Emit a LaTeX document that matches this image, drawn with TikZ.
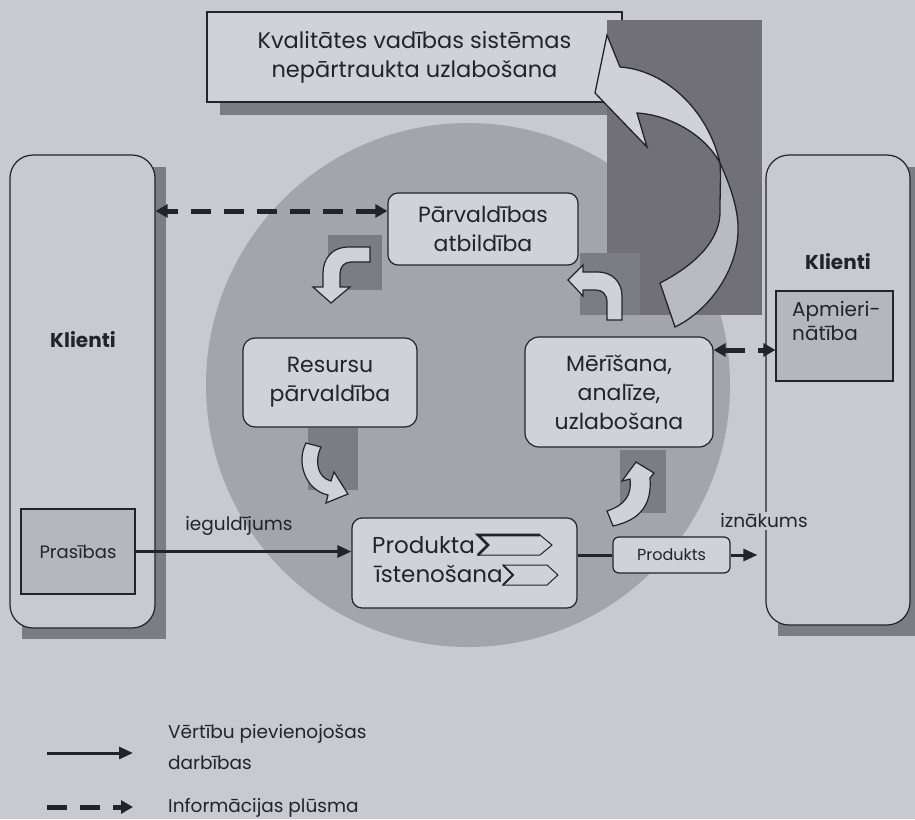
\documentclass[tikz,border=0pt]{standalone}
\usepackage{fontspec}
\setmainfont{Poppins}
\usetikzlibrary{arrows.meta}

\definecolor{paper}{RGB}{201,201,210}
\definecolor{disc}{RGB}{164,164,172}
\definecolor{shadowgray}{RGB}{124,124,131}
\definecolor{panelgray}{RGB}{112,112,118}
\definecolor{boxfill}{RGB}{209,209,217}
\definecolor{ribbon}{RGB}{186,186,194}
\definecolor{speckle}{RGB}{182,182,190}
\definecolor{ink}{RGB}{35,35,40}

\newcommand\bxfont{\fontsize{22}{29}\selectfont}
\newcommand\lgfont{\fontsize{18.5}{31}\selectfont}
\newcommand\smfont{\fontsize{16}{20}\selectfont}

\tikzset{
  roundbox/.style={draw=ink, line width=1.2pt, fill=boxfill, rounded corners=11pt,
    align=center, inner sep=0pt, font=\bxfont, text=ink},
  clientbox/.style={draw=ink, line width=1.2pt, fill=paper, rounded corners=23pt, inner sep=0pt},
  squarebox/.style={draw=ink, line width=1.2pt, fill=speckle, inner sep=0pt},
  bentarrow/.style={draw=ink, line width=1.2pt, fill=boxfill, line join=miter},
  flow/.style={draw=ink, line width=3pt, -{Triangle[length=14pt,width=12pt]}},
  flowline/.style={draw=ink, line width=3pt},
  info/.style={draw=ink, line width=5pt, dash pattern=on 20pt off 13pt,
    {Triangle[length=12pt,width=13pt]}-{Triangle[length=12pt,width=13pt]}},
  infolegend/.style={draw=ink, line width=5pt, dash pattern=on 20pt off 13pt,
    -{Triangle[length=12pt,width=13pt]}},
  caption/.style={font=\lgfont, text=ink, inner sep=0pt},
}

\begin{document}
\begin{tikzpicture}[x=1pt,y=-1pt]
  \fill[paper] (0,0) rectangle (915,819);
  \useasboundingbox (0,0) rectangle (915,819);

  % central disc
  \fill[disc] (468,385) circle[radius=262];

  % goal box with its shadow
  \fill[shadowgray] (220,25) rectangle (615,115);
  \node[roundbox, rounded corners=0pt, minimum width=415, minimum height=90,
        font=\fontsize{22.5}{29}\selectfont] (goal) at (414.5,57)
        {Kvalitātes vadības sistēmas\\nepārtraukta uzlabošana};

  % dark panel behind the improvement loop
  \fill[panelgray] (607,20) rectangle (762,315);

  % shadow squares behind the small bent arrows
  \fill[shadowgray] (328,235) rectangle (382,290);
  \fill[shadowgray] (308,428) rectangle (358,490);
  \fill[shadowgray] (620,450) rectangle (666,513);
  \fill[shadowgray] (580,253) rectangle (640,315);

  % small bent arrows
  \path[bentarrow] (370,247) -- (348,247) .. controls (333,247) and (323,258) .. (323,273)
    -- (323,287) -- (313,287) -- (331,303) -- (350,287) -- (340,287) -- (340,274)
    .. controls (340,267) and (344,262) .. (351,262) -- (370,262) -- cycle;
  \path[bentarrow] (306,443) -- (321,447) .. controls (314,462) and (318,478) .. (331,481)
    -- (334,472) -- (348,494) -- (326,503) -- (328,495)
    .. controls (305,490) and (296,462) .. (306,443) -- cycle;
  \path[bentarrow] (607,511) -- (613,526) .. controls (640,520) and (652,505) .. (650,478)
    -- (654,473) -- (636,462) -- (622,481) -- (630,479)
    .. controls (632,495) and (625,505) .. (607,511) -- cycle;
  \path[bentarrow] (607,320) -- (607,302) .. controls (607,294) and (602,290) .. (596,290)
    -- (583,290) -- (583,296) -- (568,280) -- (583,265) -- (583,272) -- (598,272)
    .. controls (612,272) and (622,282) .. (622,296) -- (622,320) -- cycle;

  % process boxes
  \node[roundbox, minimum width=190, minimum height=72, rounded corners=10pt] (pa) at (483,229)
    {Pārvaldības\\atbildība};
  \node[roundbox, minimum width=174, minimum height=89, rounded corners=12pt] (res) at (330,382.5)
    {Resursu\\pārvaldība};
  \node[roundbox, minimum width=188, minimum height=110, rounded corners=14pt] (mer) at (619,392)
    {Mērīšana,\\analīze,\\uzlabošana};
  \node[roundbox, minimum width=225, minimum height=90, rounded corners=10pt] (prod) at (464.5,563) {};
  \node[anchor=base west, font=\fontsize{23}{29}\selectfont, text=ink, inner sep=0pt] (prodA)
    at (372,553) {Produkta};
  \node[anchor=base west, font=\fontsize{23}{29}\selectfont, text=ink, inner sep=0pt] (prodB)
    at (375,582) {īstenošana};
  \draw[ink, line width=1pt, fill=boxfill] (478,535) -- (540,535) -- (552,545) -- (540,555)
    -- (478,555) -- (488,545) -- cycle;
  \draw[ink, line width=2.6pt, line join=miter] (540,535) -- (478,535) -- (488,545) -- (478,555);
  \draw[ink, line width=1pt, fill=boxfill] (503,565) -- (547,565) -- (558,575) -- (547,585)
    -- (503,585) -- (513,575) -- cycle;
  \draw[ink, line width=1.8pt, line join=miter] (503,565) -- (513,575) -- (503,585);
  \node[roundbox, minimum width=117, minimum height=36, rounded corners=6pt, font=\smfont] (pk)
    at (671.5,555) {Produkts};

  % continual improvement loop
  \path[draw=ink, line width=1.3pt, fill=ribbon]
    (720,163) .. controls (730,185) and (739,210) .. (738,232)
    .. controls (737,270) and (710,310) .. (675,327) -- (660,283)
    .. controls (695,265) and (721,240) .. (720,210)
    .. controls (720,190) and (721,175) .. (720,163) -- cycle;
  \path[draw=ink, line width=1.3pt, fill=boxfill, line join=miter]
    (607,35) -- (595,93) -- (647,147) -- (637,113)
    .. controls (670,115) and (705,135) .. (720,163)
    .. controls (708,110) and (665,70) .. (620,67) -- cycle;

  % customers on both sides
  \fill[shadowgray] (22,167) rectangle (166,639);
  \node[clientbox, minimum width=145, minimum height=473] (klL) at (82.5,391.5) {};
  \node[font=\fontsize{20}{24}\selectfont\bfseries, text=ink] (klLt) at (83,340) {Klienti};
  \node[squarebox, minimum width=114, minimum height=85, font=\fontsize{18}{22}\selectfont, text=ink]
    (pras) at (78,551.5) {Prasības};

  \fill[shadowgray] (778,167) rectangle (925,636);
  \node[clientbox, minimum width=144, minimum height=470] (klR) at (838,390) {};
  \node[font=\fontsize{20}{24}\selectfont\bfseries, text=ink] (klRt) at (838,262) {Klienti};
  \node[squarebox, minimum width=117, minimum height=90] (ap) at (834.5,336) {};
  \node[anchor=north west, align=left, font=\fontsize{20}{24}\selectfont, text=ink, inner sep=0pt]
    (apt) at (792,301) {Apmieri-\\nātība};

  % connectors
  \draw[info] ([yshift=18pt]pa.west) -- ([yshift=18pt]pa.west -| klL.east);
  \draw[info] ([yshift=42pt]mer.east) -- ([yshift=42pt]mer.east -| ap.west);
  \draw[flow] (pras.east) -- (pras.east -| prod.west);
  \node[caption] (inv) at (239,526) {ieguldījums};
  \draw[flowline] (pk.west) -- (pk.west -| prod.east);
  \draw[flow] (pk.east) -- ([xshift=-8pt]pk.east -| klR.west);
  \node[caption, fill=paper, inner sep=2pt] (outc) at (764,521) {iznākums};

  % legend
  \coordinate (lgA) at (47,753);
  \coordinate (lgB) at (133,753);
  \coordinate (lgC) at (47,807);
  \coordinate (lgD) at (133,807);
  \draw[flow] (lgA) -- (lgB);
  \draw[infolegend] (lgC) -- (lgD);
  \node[caption, anchor=west, align=left] (lgT1) at (168,747) {Vērtību pievienojošas\\darbības};
  \node[caption, anchor=west] (lgT2) at (168,808) {Informācijas plūsma};
\end{tikzpicture}
\end{document}
